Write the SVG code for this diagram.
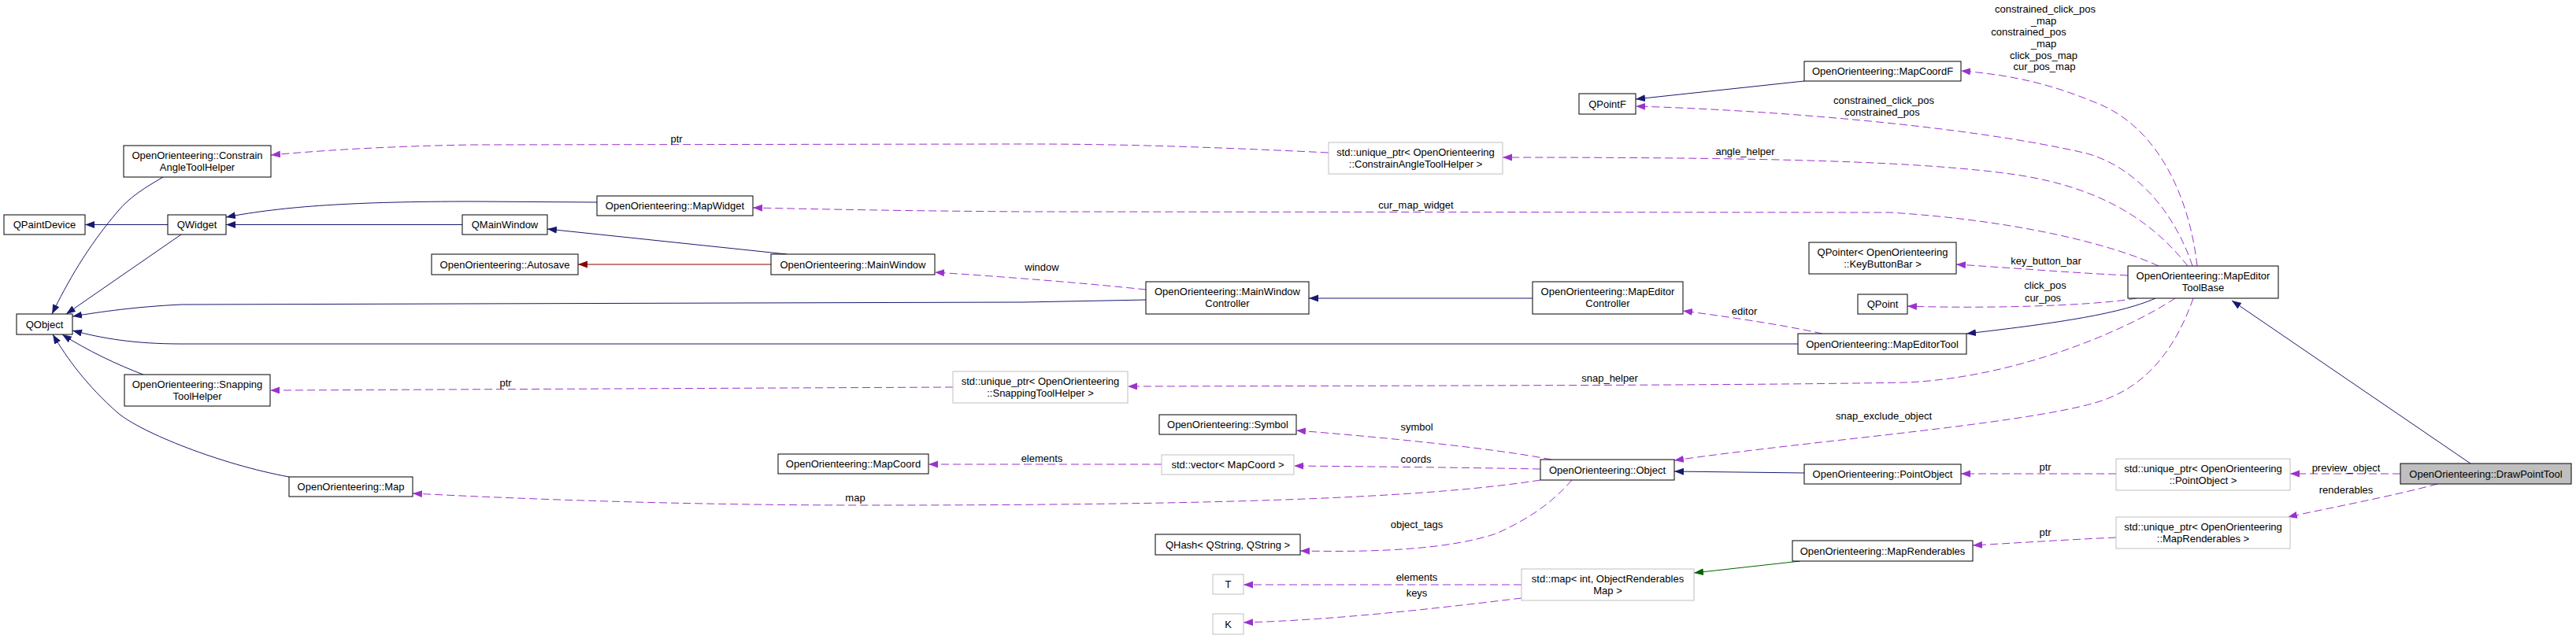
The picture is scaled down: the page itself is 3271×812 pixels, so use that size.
<svg xmlns="http://www.w3.org/2000/svg" width="3271" height="812" viewBox="0 0 3271 812">
<style>
text{font-family:"Liberation Sans",Arial,Helvetica,sans-serif;font-size:13px;text-anchor:middle;fill:#000}
.n rect{fill:#fff;stroke:#000;stroke-width:1}
.g rect{fill:#fff;stroke:#bfbfbf;stroke-width:1}
.cur rect{fill:#bfbfbf;stroke:#000;stroke-width:1}
.e path{fill:none;stroke-width:1}
.u{stroke:#9a32cd;stroke-dasharray:10,5;marker-end:url(#au)}
.b{stroke:#191970;marker-end:url(#ab)}
.r{stroke:#8b0000;marker-end:url(#ar)}
.dg{stroke:#006400;marker-end:url(#ag)}
</style>
<defs>
<marker id="au" markerUnits="userSpaceOnUse" markerWidth="14" markerHeight="11" refX="12" refY="4.5" orient="auto"><path d="M0,0 L12,4.5 L0,9 z" fill="#9a32cd"/></marker>
<marker id="ab" markerUnits="userSpaceOnUse" markerWidth="14" markerHeight="11" refX="12" refY="4.5" orient="auto"><path d="M0,0 L12,4.5 L0,9 z" fill="#191970"/></marker>
<marker id="ar" markerUnits="userSpaceOnUse" markerWidth="14" markerHeight="11" refX="12" refY="4.5" orient="auto"><path d="M0,0 L12,4.5 L0,9 z" fill="#8b0000"/></marker>
<marker id="ag" markerUnits="userSpaceOnUse" markerWidth="14" markerHeight="11" refX="12" refY="4.5" orient="auto"><path d="M0,0 L12,4.5 L0,9 z" fill="#006400"/></marker>
</defs>
<rect width="3271" height="812" fill="#fff"/>

<g id="connectors" class="e">
<path class="b" d="M213,285.5 L108,285.5"/>
<path class="b" d="M207,225 C185,238 165,250 150,268 C110,315 85,360 66,399"/>
<path class="b" d="M230,298 L84,399"/>
<path class="b" d="M1455,381 L1300,384 L230,387 C170,390 130,396 92,402"/>
<path class="b" d="M2283,437 L230,437 C170,437 130,430 92,420"/>
<path class="b" d="M182,476 C150,464 110,445 79,425"/>
<path class="b" d="M367,606 C280,590 180,550 150,525 C110,490 85,455 67,425"/>
<path class="b" d="M758,257 L600,256 C450,256 360,262 287,276"/>
<path class="b" d="M587,285.5 L287,285.5"/>
<path class="b" d="M999,323 L695,291"/>
<path class="r" d="M979,336 L734,336"/>
<path class="u" d="M1455,368 C1380,360 1280,352 1187,346"/>
<path class="b" d="M1946,379 L1662,379"/>
<path class="u" d="M2314,424 C2260,412 2190,402 2137,395"/>
<path class="b" d="M2737,379 C2690,400 2600,412 2497,424"/>
<path class="b" d="M3137,589 L2834,382"/>
<path class="b" d="M2291,103 L2077,126"/>
<path class="u" d="M2790,338 C2780,250 2740,160 2660,130 C2600,105 2550,95 2490,90"/>
<path class="u" d="M2784,338 C2765,280 2720,215 2650,195 C2500,160 2250,140 2077,135"/>
<path class="u" d="M2778,338 C2740,290 2680,240 2560,222 C2440,205 2250,200 1908,200"/>
<path class="u" d="M2741,338 C2680,310 2560,280 2400,270 L1300,269 C1150,268 1050,266 956,264"/>
<path class="u" d="M2702,350 C2620,346 2550,340 2484,336"/>
<path class="u" d="M2713,379 C2650,390 2500,392 2422,389"/>
<path class="u" d="M2762,379 C2700,420 2560,480 2420,486 C2200,490 1800,490 1432,491"/>
<path class="u" d="M2785,379 C2760,450 2720,495 2660,512 C2560,540 2300,560 2126,585"/>
<path class="u" d="M1687,194 C1500,185 1400,183 1300,183 L600,184 C480,186 400,192 344,197"/>
<path class="u" d="M1210,492 L343,496"/>
<path class="u" d="M1970,584 C1900,570 1750,555 1646,547"/>
<path class="u" d="M1475,590 L1179,590"/>
<path class="u" d="M1956,596 C1850,594 1750,593 1643,592"/>
<path class="u" d="M1956,610 C1800,635 1500,642 1100,642 C900,642 700,636 524,627"/>
<path class="u" d="M1996,610 C1970,640 1940,660 1900,678 C1840,698 1750,702 1651,700"/>
<path class="b" d="M2291,601 L2126,599"/>
<path class="u" d="M2687,602 L2490,602"/>
<path class="u" d="M3048,602 L2908,602"/>
<path class="u" d="M3095,615 C3040,630 2960,645 2905,657"/>
<path class="u" d="M2687,683 C2620,686 2560,690 2505,693"/>
<path class="dg" d="M2286,713 L2151,728"/>
<path class="u" d="M1932,743 L1579,743"/>
<path class="u" d="M1932,760 C1850,770 1700,788 1579,791"/>
<g id="edge-labels">
<text x="859" y="181">ptr</text>
<text x="1323" y="344">window</text>
<text x="1798" y="265">cur_map_widget</text>
<text x="642" y="491">ptr</text>
<text x="1086" y="637">map</text>
<text x="1799" y="547">symbol</text>
<text x="1323" y="587">elements</text>
<text x="1798" y="588">coords</text>
<text x="1799" y="671">object_tags</text>
<text x="1799" y="738">elements</text>
<text x="1799" y="758">keys</text>
<text x="2597" y="16">constrained_click_pos</text>
<text x="2595" y="31">_map</text>
<text x="2576" y="45">constrained_pos</text>
<text x="2595" y="60">_map</text>
<text x="2595" y="75">click_pos_map</text>
<text x="2596" y="89">cur_pos_map</text>
<text x="2392" y="132">constrained_click_pos</text>
<text x="2390" y="147">constrained_pos</text>
<text x="2216" y="197">angle_helper</text>
<text x="2598" y="336">key_button_bar</text>
<text x="2597" y="367">click_pos</text>
<text x="2594" y="383">cur_pos</text>
<text x="2215" y="400">editor</text>
<text x="2044" y="485">snap_helper</text>
<text x="2392" y="533">snap_exclude_object</text>
<text x="2597" y="598">ptr</text>
<text x="2597" y="681">ptr</text>
<text x="2979" y="599">preview_object</text>
<text x="2979" y="627">renderables</text>
</g>
</g>

<g id="QPaintDevice" class="n"><rect x="5" y="273" width="103" height="25"/><text x="56.5" y="290">QPaintDevice</text></g>
<g id="QWidget" class="n"><rect x="213" y="273" width="74" height="25"/><text x="250" y="290">QWidget</text></g>
<g id="QObject" class="n"><rect x="21" y="399" width="71" height="26"/><text x="56.5" y="416.5">QObject</text></g>
<g id="ConstrainAngleToolHelper" class="n"><rect x="157" y="185" width="187" height="40"/><text x="250.5" y="201.5">OpenOrienteering::Constrain</text><text x="250.5" y="216.5">AngleToolHelper</text></g>
<g id="QMainWindow" class="n"><rect x="587" y="273" width="108" height="25"/><text x="641" y="290">QMainWindow</text></g>
<g id="Autosave" class="n"><rect x="548" y="323" width="186" height="26"/><text x="641" y="340.5">OpenOrienteering::Autosave</text></g>
<g id="MapWidget" class="n"><rect x="758" y="249" width="198" height="25"/><text x="857" y="266">OpenOrienteering::MapWidget</text></g>
<g id="MainWindow" class="n"><rect x="979" y="323" width="208" height="26"/><text x="1083" y="340.5">OpenOrienteering::MainWindow</text></g>
<g id="SnappingToolHelper" class="n"><rect x="158" y="476" width="185" height="40"/><text x="250.5" y="492.5">OpenOrienteering::Snapping</text><text x="250.5" y="507.5">ToolHelper</text></g>
<g id="Map" class="n"><rect x="367" y="606" width="157" height="25"/><text x="445.5" y="623">OpenOrienteering::Map</text></g>
<g id="UptrConstrain" class="g"><rect x="1687" y="181" width="221" height="40"/><text x="1797.5" y="197.5">std::unique_ptr&lt; OpenOrienteering</text><text x="1797.5" y="212.5">::ConstrainAngleToolHelper &gt;</text></g>
<g id="MainWindowController" class="n"><rect x="1455" y="358" width="207" height="41"/><text x="1558.5" y="375">OpenOrienteering::MainWindow</text><text x="1558.5" y="390">Controller</text></g>
<g id="UptrSnapping" class="g"><rect x="1210" y="472" width="222" height="40"/><text x="1321" y="488.5">std::unique_ptr&lt; OpenOrienteering</text><text x="1321" y="503.5">::SnappingToolHelper &gt;</text></g>
<g id="Symbol" class="n"><rect x="1472" y="527" width="174" height="25"/><text x="1559" y="544">OpenOrienteering::Symbol</text></g>
<g id="MapCoord" class="n"><rect x="988" y="577" width="191" height="25"/><text x="1083.5" y="594">OpenOrienteering::MapCoord</text></g>
<g id="VectorMapCoord" class="g"><rect x="1475" y="578" width="168" height="25"/><text x="1559" y="595">std::vector&lt; MapCoord &gt;</text></g>
<g id="QHash" class="n"><rect x="1467" y="679" width="184" height="26"/><text x="1559" y="696.5">QHash&lt; QString, QString &gt;</text></g>
<g id="T" class="g"><rect x="1540" y="730" width="39" height="25"/><text x="1559.5" y="747">T</text></g>
<g id="K" class="g"><rect x="1540" y="780" width="39" height="26"/><text x="1559.5" y="797.5">K</text></g>
<g id="Object" class="n"><rect x="1956" y="584" width="170" height="26"/><text x="2041" y="601.5">OpenOrienteering::Object</text></g>
<g id="StdMap" class="g"><rect x="1932" y="723" width="219" height="40"/><text x="2041.5" y="739.5">std::map&lt; int, ObjectRenderables</text><text x="2041.5" y="754.5">Map &gt;</text></g>
<g id="QPointF" class="n"><rect x="2005" y="119" width="72" height="26"/><text x="2041" y="136.5">QPointF</text></g>
<g id="MapCoordF" class="n"><rect x="2291" y="78" width="199" height="25"/><text x="2390.5" y="95">OpenOrienteering::MapCoordF</text></g>
<g id="QPointerKeyButtonBar" class="n"><rect x="2297" y="308" width="187" height="40"/><text x="2390.5" y="324.5">QPointer&lt; OpenOrienteering</text><text x="2390.5" y="339.5">::KeyButtonBar &gt;</text></g>
<g id="MapEditorController" class="n"><rect x="1946" y="358" width="191" height="41"/><text x="2041.5" y="375">OpenOrienteering::MapEditor</text><text x="2041.5" y="390">Controller</text></g>
<g id="QPoint" class="n"><rect x="2359" y="374" width="63" height="25"/><text x="2390.5" y="391">QPoint</text></g>
<g id="MapEditorTool" class="n"><rect x="2283" y="424" width="214" height="26"/><text x="2390" y="441.5">OpenOrienteering::MapEditorTool</text></g>
<g id="MapEditorToolBase" class="n"><rect x="2702" y="338" width="191" height="41"/><text x="2797.5" y="355">OpenOrienteering::MapEditor</text><text x="2797.5" y="370">ToolBase</text></g>
<g id="PointObject" class="n"><rect x="2291" y="590" width="199" height="25"/><text x="2390.5" y="607">OpenOrienteering::PointObject</text></g>
<g id="MapRenderables" class="n"><rect x="2276" y="687" width="229" height="26"/><text x="2390.5" y="704.5">OpenOrienteering::MapRenderables</text></g>
<g id="UptrPointObject" class="g"><rect x="2687" y="583" width="221" height="40"/><text x="2797.5" y="599.5">std::unique_ptr&lt; OpenOrienteering</text><text x="2797.5" y="614.5">::PointObject &gt;</text></g>
<g id="UptrMapRenderables" class="g"><rect x="2687" y="657" width="221" height="40"/><text x="2797.5" y="673.5">std::unique_ptr&lt; OpenOrienteering</text><text x="2797.5" y="688.5">::MapRenderables &gt;</text></g>
<g id="DrawPointTool" class="cur"><rect x="3048" y="589" width="217" height="26"/><text x="3156.5" y="606.5">OpenOrienteering::DrawPointTool</text></g>
</svg>
